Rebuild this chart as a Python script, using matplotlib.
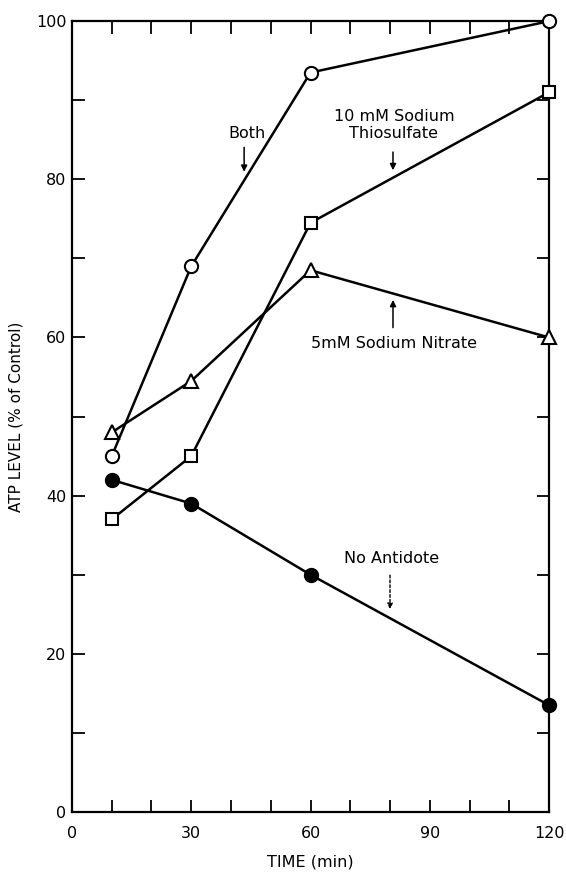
import numpy as np
import matplotlib.pyplot as plt
from matplotlib.ticker import MultipleLocator

plt.rcParams['font.family'] = ['DejaVu Sans']

# sampling times (min) and ATP level (% of control) for each treatment
time = [10, 30, 60, 120]
both = [45, 69, 93.5, 100]
thiosulfate = [37, 45, 74.5, 91]
nitrate = [48, 54.5, 68.5, 60]
no_antidote = [42, 39, 30, 13.5]

fig = plt.figure(figsize=(5.66, 8.82), dpi=100)
ax = fig.add_axes([0.1272, 0.0794, 0.8428, 0.8966])

line_kw = dict(color='black', lw=1.8, clip_on=False, zorder=3)
ax.plot(time, both, marker='o', ms=9.5, mfc='white', mec='black', mew=1.5, **line_kw)
ax.plot(time, thiosulfate, marker='s', ms=9, mfc='white', mec='black', mew=1.5, **line_kw)
ax.plot(time, nitrate, marker='^', ms=10.5, mfc='white', mec='black', mew=1.5, **line_kw)
ax.plot(time, no_antidote, marker='o', ms=10, mfc='black', mec='black', **line_kw)

ax.set_xlim(0, 120)
ax.set_ylim(0, 100)
ax.xaxis.set_major_locator(MultipleLocator(30))
ax.xaxis.set_minor_locator(MultipleLocator(10))
ax.yaxis.set_major_locator(MultipleLocator(20))
ax.yaxis.set_minor_locator(MultipleLocator(10))
ax.tick_params(which='both', direction='in', top=True, right=True,
               length=9, width=1.3)
ax.tick_params(axis='x', which='major', pad=10, labelsize=11.5)
ax.tick_params(axis='y', which='major', pad=4, labelsize=11.5)
for s in ax.spines.values():
    s.set_linewidth(1.6)

ax.set_xlabel('TIME (min)', fontsize=11.5, labelpad=10)
ax.set_ylabel('ATP LEVEL (% of Control)', fontsize=11, labelpad=9)

# labels with pointer arrows
txt = dict(fontsize=11.5, ha='center', va='center')
arrow = dict(arrowstyle='-|>', color='black', lw=1.1, mutation_scale=9)
ax.text(44, 85.8, 'Both', **txt)
ax.annotate('', xy=(43.3, 80.6), xytext=(43.3, 84.4), arrowprops=arrow)
ax.text(81, 86.9, '10 mM Sodium\nThiosulfate', linespacing=1.15, **txt)
ax.annotate('', xy=(80.75, 80.8), xytext=(80.75, 83.8), arrowprops=arrow)
ax.text(81, 59.3, '5mM Sodium Nitrate', **txt)
ax.annotate('', xy=(80.75, 65.1), xytext=(80.75, 60.9), arrowprops=arrow)
ax.text(80.5, 32.0, 'No Antidote', **txt)
ax.annotate('', xy=(80, 25.3), xytext=(80, 30.3),
            arrowprops=dict(arrowstyle='-|>', color='black', lw=1.0,
                            ls=(0, (2, 1.5)), mutation_scale=8))

fig.savefig('out.png', dpi=100)
